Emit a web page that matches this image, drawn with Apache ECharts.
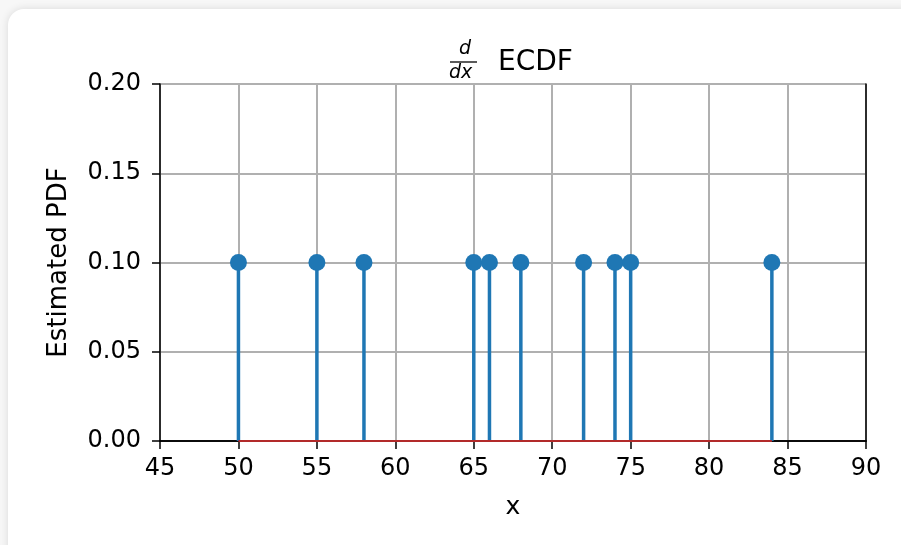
<!DOCTYPE html>
<html><head><meta charset="utf-8">
<script src="https://cdn.jsdelivr.net/npm/echarts@6/dist/echarts.min.js"></script>
<style>
html,body{margin:0;padding:0;background:#f7f7f7;width:901px;height:545px;overflow:hidden;}
#card{position:absolute;left:8px;top:9px;width:910px;height:560px;background:#fff;border-radius:16px;box-shadow:0 0 8px rgba(0,0,0,0.12);}
#c{position:absolute;left:0;top:0;width:901px;height:545px;}
</style></head>
<body><div id="card"></div><div id="c"></div>
<script>
const xValues = [50, 55, 58, 65, 66, 68, 72, 74, 75, 84];
const pdfValues = [0.1, 0.1, 0.1, 0.1, 0.1, 0.1, 0.1, 0.1, 0.1, 0.1];
const xTicks = [45, 50, 55, 60, 65, 70, 75, 80, 85, 90];
const yTicks = [0.00, 0.05, 0.10, 0.15, 0.20];

const chart = echarts.init(document.getElementById('c'), null, {renderer:'canvas'});
const font = 'DejaVu Sans';
const pts = xValues.map((x,i)=>[x,pdfValues[i]]);
const baseline = [[Math.min(...xValues),0],[Math.max(...xValues),0]];
const spine = {show:true,lineStyle:{color:'#000',width:1.5}};
chart.setOption({
  backgroundColor:'transparent',
  animation:false,
  grid:{left:160,top:84,width:706,height:357,show:false},
  xAxis:[{type:'value',min:xTicks[0],max:xTicks[xTicks.length-1],interval:5,position:'bottom',
    axisLine:spine,
    axisTick:{show:true,length:8,lineStyle:{color:'#000',width:1.5}},
    axisLabel:{color:'#000',fontFamily:font,fontSize:24,margin:16,formatter:v=>String(v)},
    splitLine:{show:true,lineStyle:{color:'#b0b0b0',width:2}},
    name:'x',nameLocation:'middle',nameGap:54,nameTextStyle:{color:'#000',fontFamily:font,fontSize:25}},
   {type:'value',min:xTicks[0],max:xTicks[xTicks.length-1],position:'top',
    axisLine:spine,axisTick:{show:false},axisLabel:{show:false},splitLine:{show:false}}],
  yAxis:[{type:'value',min:yTicks[0],max:yTicks[yTicks.length-1],interval:0.05,position:'left',
    axisLine:spine,
    axisTick:{show:true,length:8,lineStyle:{color:'#000',width:1.5}},
    axisLabel:{color:'#000',fontFamily:font,fontSize:24,margin:19,formatter:v=>v.toFixed(2)},
    splitLine:{show:true,lineStyle:{color:'#b0b0b0',width:2}},
    name:'Estimated PDF',nameLocation:'middle',nameGap:88,nameTextStyle:{color:'#000',fontFamily:font,fontSize:26}},
   {type:'value',min:yTicks[0],max:yTicks[yTicks.length-1],position:'right',
    axisLine:spine,axisTick:{show:false},axisLabel:{show:false},splitLine:{show:false}}],
  series:[
    {type:'custom',data:pts,clip:false,z:3,
     renderItem:function(params,api){
       const top=api.coord([api.value(0),api.value(1)]);
       const bot=api.coord([api.value(0),0]);
       return {type:'line',shape:{x1:top[0],y1:top[1],x2:bot[0],y2:bot[1]},style:{stroke:'#1f77b4',lineWidth:3.5}};
     }},
    {type:'line',data:baseline,symbol:'none',z:4,lineStyle:{color:'#b22a2a',width:2}},
    {type:'scatter',data:pts,symbol:'circle',symbolSize:17,z:5,itemStyle:{color:'#1f77b4',opacity:1}}
  ],
  graphic:[
    {type:'text',left:459,top:40,style:{text:'d',font:'italic 19px "DejaVu Sans"',fill:'#000'}},
    {type:'line',shape:{x1:450,y1:62,x2:477,y2:62},style:{stroke:'#000',lineWidth:1.3}},
    {type:'text',left:449,top:64,style:{text:'dx',font:'italic 19px "DejaVu Sans"',fill:'#000'}},
    {type:'text',left:498,top:49,style:{text:'ECDF',font:'28px "DejaVu Sans"',fill:'#000'}}
  ]
});
</script></body></html>
